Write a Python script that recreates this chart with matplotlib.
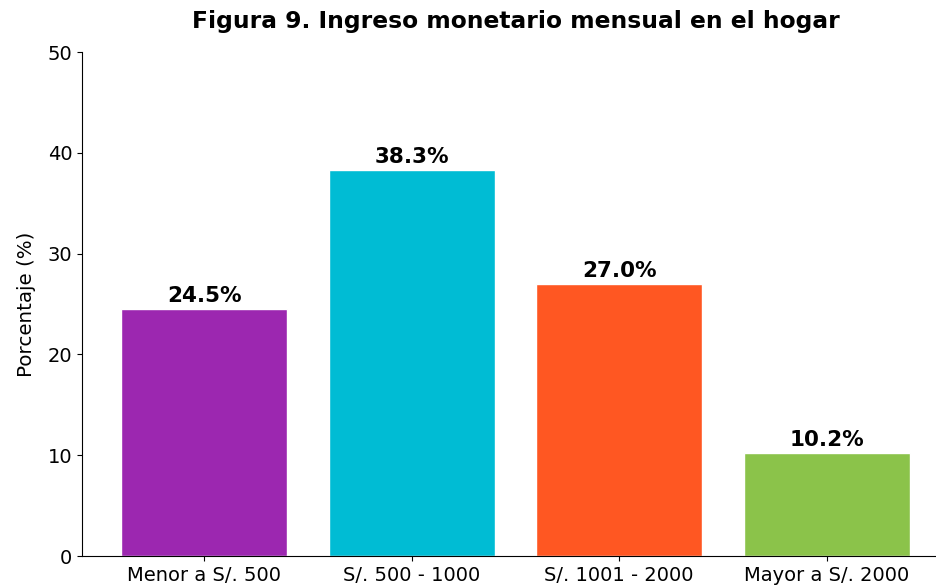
import numpy as np
import matplotlib
matplotlib.use("Agg")
import matplotlib.pyplot as plt

categorias = ["Menor a S/. 500", "S/. 500 - 1000", "S/. 1001 - 2000", "Mayor a S/. 2000"]
porcentajes = [24.5, 38.3, 27.0, 10.2]
colores = ["#9C27B0", "#00BCD4", "#FF5722", "#8BC34A"]

fig = plt.figure(figsize=(9.37, 5.87), dpi=100)
ax = fig.add_axes([82/937, 1 - 556/587, (949 - 82)/937, (556 - 52)/587])

x = np.arange(len(categorias))
bars = ax.bar(x, porcentajes, width=0.8, color=colores, edgecolor="white", linewidth=1.0)

for b, v in zip(bars, porcentajes):
    ax.text(b.get_x() + b.get_width()/2, v + 0.3, f"{v:.1f}%",
            ha="center", va="bottom", fontsize=15.5, fontweight="bold")

ax.set_xticks(x)
ax.set_xticklabels(categorias, fontsize=14)
ax.set_ylim(0, 50)
ax.set_yticks([0, 10, 20, 30, 40, 50])
ax.tick_params(axis="y", labelsize=14)
ax.set_ylabel("Porcentaje (%)", fontsize=14.3, labelpad=8)
ax.set_title("Figura 9. Ingreso monetario mensual en el hogar",
             fontsize=16.8, fontweight="bold", pad=17)
ax.spines["top"].set_visible(False)
ax.spines["right"].set_visible(False)

fig.savefig("out.png", dpi=100)
